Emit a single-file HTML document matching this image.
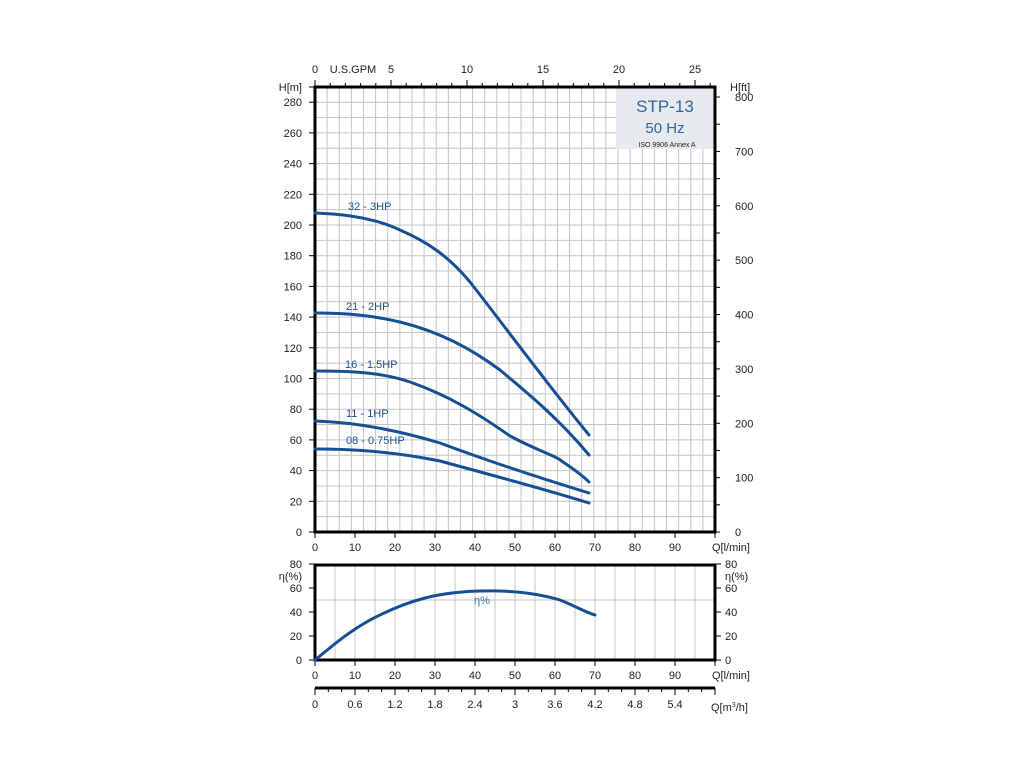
<!DOCTYPE html>
<html><head><style>
body{margin:0;background:#fff;}
svg{display:block;font-family:"Liberation Sans",sans-serif;}
</style></head><body>
<svg width="1024" height="768" viewBox="0 0 1024 768">
<g id="grid" stroke="#c4c4c4" stroke-width="1"></g>
<rect x="616" y="88" width="98" height="61" fill="#e6e9ed"/>
<text x="665" y="112" font-size="17" fill="#2f63a0" text-anchor="middle">STP-13</text>
<text x="665" y="133" font-size="15" fill="#2f63a0" text-anchor="middle">50 Hz</text>
<text x="667" y="147" font-size="7" fill="#222" text-anchor="middle">ISO 9906 Annex A</text>
<rect x="315" y="87" width="400" height="445" fill="none" stroke="#000" stroke-width="3"/>
<rect x="315" y="565" width="400" height="95" fill="none" stroke="#000" stroke-width="3"/>
<line x1="315" y1="688" x2="715" y2="688" stroke="#000" stroke-width="3"/>
<g id="ticks" stroke="#000" stroke-width="1"></g>
<g font-size="11" fill="#222" id="labels"></g>
<g fill="none" stroke="#154f94" stroke-width="3" stroke-linecap="round" stroke-linejoin="round">
<path d="M315,213 C345,214 375,218 400,230 C430,243 450,258 470,282 C500,320 540,375 589,435"/>
<path d="M315,313 C345,313 370,315 400,322 C440,332 470,348 500,370 C530,395 560,420 589,455"/>
<path d="M315,371 C350,371 380,372 410,382 C450,396 480,415 510,436 C540,452 555,455 563,462 C575,470 582,475 589,482"/>
<path d="M315,421 C350,422 390,428 440,443 C480,458 530,475 589,493"/>
<path d="M315,449 C350,449 390,451 440,461 C480,472 530,485 589,503"/>
<path d="M315,660 C330,648 345,634 370,620 C410,599 440,592 480,591 C515,590 540,594 560,600 C575,606 585,612 595,615"/>
</g>
<g font-size="11" fill="#1d4f8c">
<text x="348" y="210">32 - 3HP</text>
<text x="346" y="310">21 - 2HP</text>
<text x="345" y="368">16 - 1.5HP</text>
<text x="346" y="417">11 - 1HP</text>
<text x="346" y="444">08 - 0.75HP</text>
<text x="474" y="604" fill="#3a6ea5">η%</text>
</g>
</svg>
<script>
const NS="http://www.w3.org/2000/svg";
const g=document.getElementById('grid'),t=document.getElementById('ticks'),L=document.getElementById('labels');
function ln(p,x1,y1,x2,y2){const e=document.createElementNS(NS,'line');e.setAttribute('x1',x1);e.setAttribute('y1',y1);e.setAttribute('x2',x2);e.setAttribute('y2',y2);p.appendChild(e);}
function tx(s,x,y,a){const e=document.createElementNS(NS,'text');e.setAttribute('x',x);e.setAttribute('y',y);if(a)e.setAttribute('text-anchor',a);e.textContent=s;L.appendChild(e);return e;}
for(let i=1;i<33;i++){const x=315+i*400/33;ln(g,x,87,x,532);}
for(let m=10;m<=290;m+=10){const y=532-m*1.535;ln(g,315,y,715,y);}
for(let q=5;q<100;q+=5){const x=315+q*4;ln(g,x,565,x,660);}
ln(g,315,600,715,600);
for(let m=0;m<=280;m+=20){const y=532-m*1.535;ln(t,309,y,315,y);tx(m,302,y+4,'end');}
ln(t,309,87,315,87);tx('H[m]',302,91,'end');
for(let f=0;f<=800;f+=50){const y=532-f*0.5437;ln(t,715,y,720,y);if(f%100==0)tx(f,735,y+4,'start');}
tx('H[ft]',730,91,'start');
for(let i=0;i<=26;i++){const x=315+i*15.2;ln(t,x,i%5?83:80,x,87);}
[0,5,10,15,20,25].forEach(v=>tx(v,315+v*15.2,73,'middle'));
tx('U.S.GPM',353,73,'middle');
for(let q=0;q<=100;q+=10){const x=315+q*4;ln(t,x,532,x,538);ln(t,x,660,x,666);if(q<100){tx(q,x,551,'middle');tx(q,x,679,'middle');}}
tx('Q[l/min]',712,551,'start');tx('Q[l/min]',712,679,'start');
for(let e=0;e<=80;e+=20){const y=660-e*1.2;ln(t,309,y,315,y);ln(t,715,y,721,y);tx(e,302,y+4,'end');tx(e,725,y+4,'start');}
tx('η(%)',302,580,'end');tx('η(%)',725,580,'start');
for(let i=0;i<=30;i++){const x=315+i*400/30;ln(t,x,688,x,i%3?692:695);}
['0','0.6','1.2','1.8','2.4','3','3.6','4.2','4.8','5.4'].forEach((s,i)=>tx(s,315+i*40,708,'middle'));
const q=tx('',711,711,'start');q.innerHTML='Q[m<tspan font-size="7" dy="-4">3</tspan><tspan dy="4">/h]</tspan>';
</script>
</body></html>
